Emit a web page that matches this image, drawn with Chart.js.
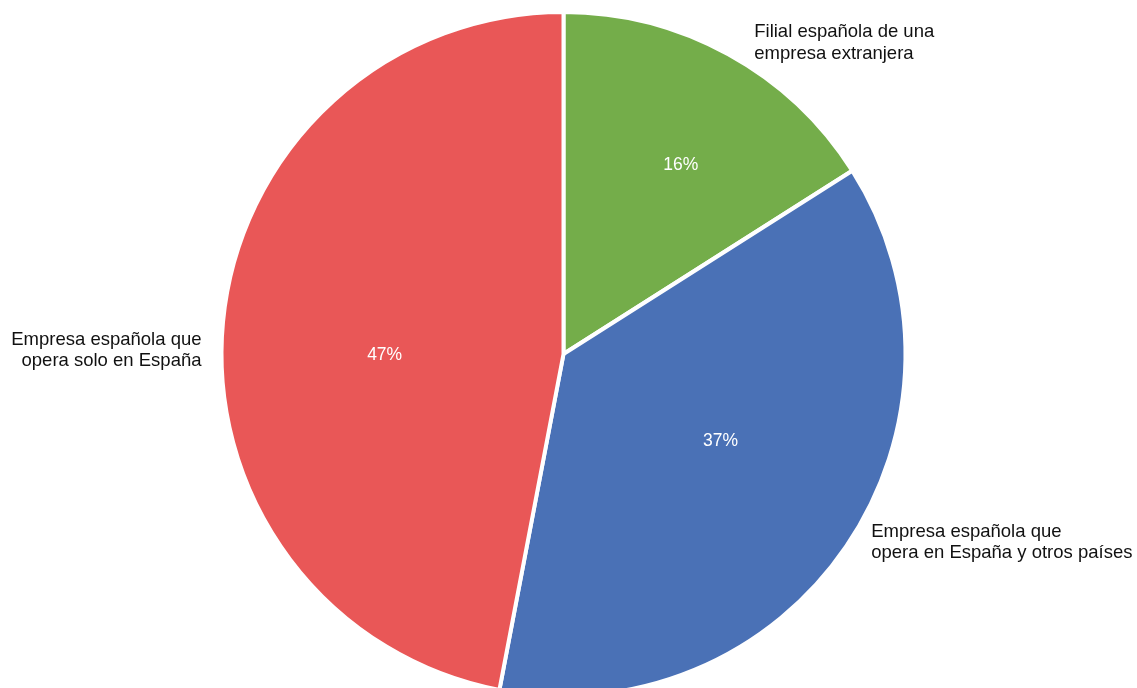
<!DOCTYPE html>
<html>
<head>
<meta charset="utf-8">
<script src="https://cdn.jsdelivr.net/npm/chart.js@4"></script>
<style>
  html, body { margin: 0; padding: 0; background: #ffffff; overflow: hidden; }
  #wrap { position: relative; width: 1137px; height: 702px; }
</style>
</head>
<body>
<div id="wrap"><canvas id="c" width="1137" height="702"></canvas></div>
<script>
// ---- data ----
const categories = [
  ["Filial española de una", "empresa extranjera"],
  ["Empresa española que", "opera en España y otros países"],
  ["Empresa española que", "opera solo en España"]
];
const values = [16, 37, 47];
const colors = ["#74ad4a", "#4a71b6", "#e95757"];

// label placement settings (styling, not data)
const innerRadiusFrac = [0.655, 0.526, 0.523];
const angleTweakDeg = [2.8, -5.0, -5.0];
const innerNudgeY = [2, -1, 2];
const outerNudge = [[0, -1], [-10, 11], [2, -1]];
const outerGap = 22;

const labelPlugin = {
  id: 'sliceLabels',
  afterDatasetsDraw(chart) {
    const ctx = chart.ctx;
    const meta = chart.getDatasetMeta(0);
    const total = values.reduce((a, b) => a + b, 0);
    meta.data.forEach((arc, i) => {
      const p = arc.getProps(['x', 'y', 'startAngle', 'endAngle', 'outerRadius'], true);
      const mid = (p.startAngle + p.endAngle) / 2 + angleTweakDeg[i] * Math.PI / 180;
      // percentage inside
      const ri = p.outerRadius * innerRadiusFrac[i];
      ctx.save();
      ctx.font = '17.5px "Liberation Sans", Arial, sans-serif';
      ctx.fillStyle = '#ffffff';
      ctx.textAlign = 'center';
      ctx.textBaseline = 'middle';
      ctx.fillText(Math.round(values[i] / total * 100) + '%', p.x + ri * Math.cos(mid), p.y + ri * Math.sin(mid) + innerNudgeY[i]);
      // category label outside
      const ro = p.outerRadius + outerGap;
      const ax = p.x + ro * Math.cos(mid) + outerNudge[i][0];
      const ay = p.y + ro * Math.sin(mid) + outerNudge[i][1];
      ctx.font = '18.5px "Liberation Sans", Arial, sans-serif';
      ctx.fillStyle = '#111111';
      ctx.textAlign = ax >= p.x ? 'left' : 'right';
      const lines = categories[i];
      const lh = 21.5;
      const y0 = ay - (lines.length - 1) * lh / 2;
      lines.forEach((t, k) => ctx.fillText(t, ax, y0 + k * lh));
      ctx.restore();
    });
  }
};

new Chart(document.getElementById('c'), {
  type: 'pie',
  data: {
    labels: categories.map(l => l.join(' ')),
    datasets: [{
      data: values,
      backgroundColor: colors,
      borderColor: '#ffffff',
      borderWidth: 4
    }]
  },
  options: {
    responsive: false,
    animation: false,
    layout: { padding: { top: 10, bottom: 4, left: 0, right: 10 } },
    plugins: { legend: { display: false }, tooltip: { enabled: false } }
  },
  plugins: [labelPlugin]
});
</script>
</body>
</html>
